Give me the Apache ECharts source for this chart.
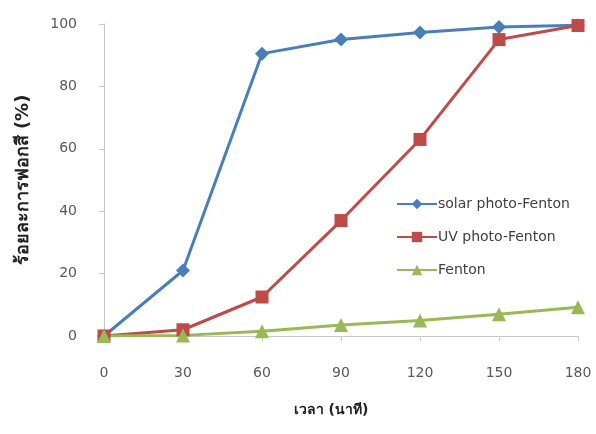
<!DOCTYPE html>
<html><head><meta charset="utf-8">
<script src="https://cdn.jsdelivr.net/npm/echarts@6/dist/echarts.min.js"></script>
<style>html,body{margin:0;padding:0;background:#fff}#c{width:596px;height:434px}</style>
</head><body><div id="c"></div>
<script>
var categories = ['0','30','60','90','120','150','180'];
var solarPhotoFenton = [0, 21, 90.5, 95, 97.3, 99, 99.6];
var uvPhotoFenton = [0, 2, 12.5, 37, 63, 95, 99.5];
var fenton = [0, 0.2, 1.5, 3.5, 5, 7, 9.2];
var yTicks = [0, 20, 40, 60, 80, 100];
var seriesNames = ['solar photo-Fenton', 'UV photo-Fenton', 'Fenton'];

var font = 'DejaVu Sans, Liberation Sans, sans-serif';
var chart = echarts.init(document.getElementById('c'), null, {renderer:'canvas'});
function mk(name, data, color, symbol, size){
  return {name:name, type:'line', data:data, symbol:symbol, symbolSize:size,
    lineStyle:{color:color,width:3}, itemStyle:{color:color}, z: 2};
}
chart.setOption({
  animation:false,
  textStyle:{fontFamily:font},
  grid:{left:104,right:18,top:24,bottom:98,containLabel:false},
  legend:{orient:'vertical', left:391, top:192, itemWidth:40, itemHeight:13, itemGap:19,
    textStyle:{fontSize:14,color:'#404040',fontFamily:font,padding:[0,0,0,-4]},
    data:seriesNames},
  xAxis:{type:'category', data:categories, boundaryGap:false,
    name:'เวลา (นาที)', nameLocation:'middle', nameGap:67,
    nameTextStyle:{fontSize:14,fontWeight:'bold',color:'#222',padding:[0,20,0,0]},
    axisLine:{lineStyle:{color:'#c8c8c8',width:1}},
    axisTick:{show:true, alignWithLabel:true, length:5, lineStyle:{color:'#c8c8c8'}},
    axisLabel:{fontSize:14,color:'#595959',margin:14,padding:[16,0,0,0]},
    splitLine:{show:false}},
  yAxis:{type:'value', min:yTicks[0], max:yTicks[yTicks.length-1], interval:20,
    name:'ร้อยละการฟอกสี (%)', nameLocation:'middle', nameGap:72, nameRotate:90,
    nameTextStyle:{fontSize:18,fontWeight:'bold',color:'#222'},
    axisLine:{show:true,lineStyle:{color:'#c8c8c8',width:1}},
    axisTick:{show:true,length:5,lineStyle:{color:'#c8c8c8'}},
    axisLabel:{fontSize:14,color:'#595959',margin:14,padding:[0,13,0,0]},
    splitLine:{show:false}},
  series:[
    mk(seriesNames[0], solarPhotoFenton, '#4a7ebb', 'diamond', 14),
    mk(seriesNames[1], uvPhotoFenton, '#be4b48', 'rect', 13),
    mk(seriesNames[2], fenton, '#98b954', 'triangle', 14)
  ]
});
</script></body></html>
